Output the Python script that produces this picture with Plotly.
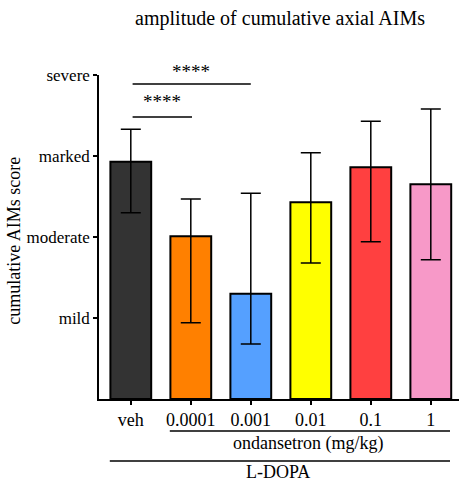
import plotly.graph_objects as go

categories = ["veh", "0.0001", "0.001", "0.01", "0.1", "1"]
means = [2.93, 2.01, 1.30, 2.43, 2.86, 2.65]
err_plus = [0.40, 0.46, 1.24, 0.61, 0.57, 0.93]
err_minus = [0.63, 1.07, 0.62, 0.75, 0.92, 0.93]
colors = ["#333333", "#FF8000", "#55A0FF", "#FFFF00", "#FF4040", "#F799C8"]
ytick_vals = [1, 2, 3, 4]
ytick_text = ["mild", "moderate", "marked", "severe"]

FONT = "Times New Roman, Liberation Serif, Times, serif"
xs = list(range(len(categories)))

fig = go.Figure()
fig.add_trace(go.Bar(
    x=xs, y=means, width=0.68,
    marker=dict(color=colors, line=dict(color="black", width=2)),
    error_y=dict(type="data", symmetric=False, array=err_plus, arrayminus=err_minus,
                 color="black", thickness=1.5, width=10),
    showlegend=False,
))

shapes = [
    dict(type="line", xref="x", yref="y", x0=0.03, x1=2.0, y0=3.89, y1=3.89,
         line=dict(color="black", width=1.5)),
    dict(type="line", xref="x", yref="y", x0=0.03, x1=1.02, y0=3.48, y1=3.48,
         line=dict(color="black", width=1.5)),
    dict(type="line", xref="x", yref="paper", x0=0.65, x1=5.32, y0=-0.099, y1=-0.099,
         line=dict(color="black", width=1.5)),
    dict(type="line", xref="x", yref="paper", x0=-0.35, x1=5.32, y0=-0.191, y1=-0.191,
         line=dict(color="black", width=1.5)),
]
annotations = [
    dict(text="****", xref="x", yref="paper", x=1.0, y=1.012, showarrow=False,
         font=dict(family=FONT, size=19, color="black"), yanchor="middle"),
    dict(text="****", xref="x", yref="paper", x=0.52, y=0.917, showarrow=False,
         font=dict(family=FONT, size=19, color="black"), yanchor="middle"),
    dict(text="ondansetron (mg/kg)", xref="x", yref="paper", x=2.95, y=-0.136,
         showarrow=False, font=dict(family=FONT, size=18, color="black"), yanchor="middle"),
    dict(text="L-DOPA", xref="x", yref="paper", x=2.45, y=-0.226,
         showarrow=False, font=dict(family=FONT, size=18, color="black"), yanchor="middle"),
    dict(text="cumulative AIMs score", xref="paper", yref="paper", x=-0.235, y=0.49,
         textangle=-90, showarrow=False, font=dict(family=FONT, size=18, color="black"),
         xanchor="center", yanchor="middle"),
]

fig.update_layout(
    width=459, height=489,
    margin=dict(l=99, r=0, t=75, b=90),
    paper_bgcolor="white", plot_bgcolor="white",
    font=dict(family=FONT, size=18, color="black"),
    title=dict(text="amplitude of cumulative axial AIMs", x=0.503, xref="paper",
               y=1 - 18 / 489, yref="container", xanchor="center", yanchor="middle",
               font=dict(family=FONT, size=20, color="black")),
    shapes=shapes, annotations=annotations,
    bargap=0.3,
)
fig.update_xaxes(
    range=[-0.53, 5.47], tickvals=xs, ticktext=categories,
    showline=True, linecolor="black", linewidth=1.5,
    ticks="outside", ticklen=4, tickwidth=1.5, tickcolor="black",
    showgrid=False, zeroline=False, fixedrange=True,
)
fig.update_yaxes(
    range=[0, 4], tickvals=ytick_vals, ticktext=ytick_text,
    tickfont=dict(family=FONT, size=17, color="black"),
    showline=True, linecolor="black", linewidth=1.5,
    ticks="outside", ticklen=4, tickwidth=1.5, tickcolor="black",
    showgrid=False, zeroline=False, fixedrange=True,
)

fig.write_html("out.html")
